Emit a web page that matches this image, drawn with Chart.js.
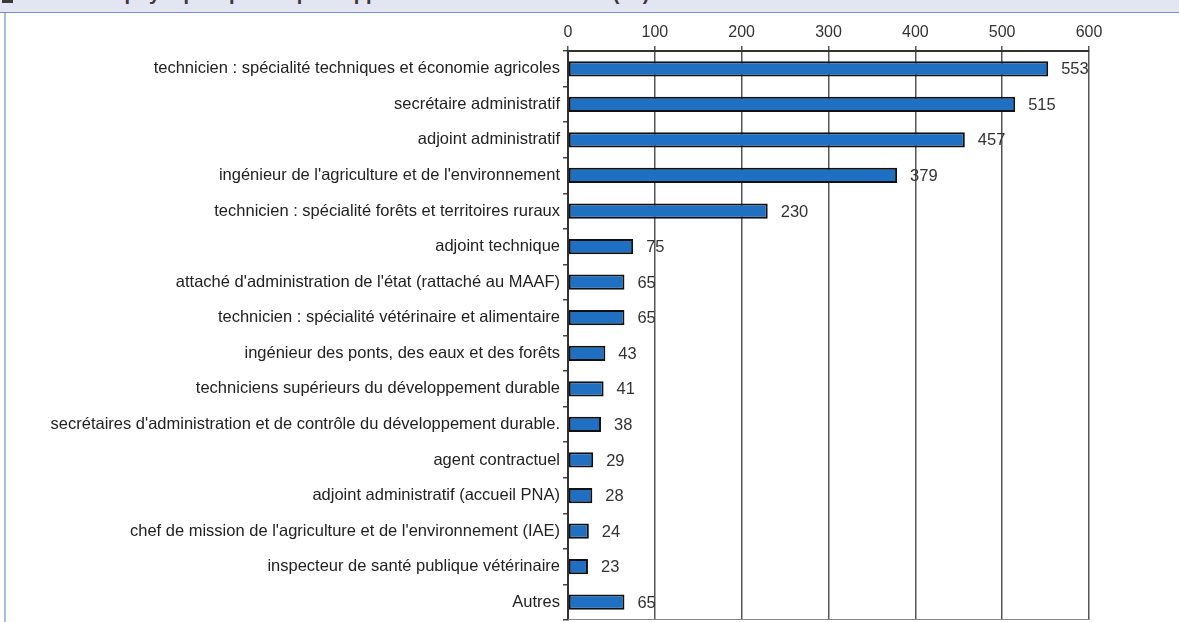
<!DOCTYPE html>
<html lang="fr">
<head>
<meta charset="utf-8">
<script src="https://cdn.jsdelivr.net/npm/chart.js@4/dist/chart.umd.min.js"></script>
<style>
  html, body { margin: 0; padding: 0; background: #fff; }
  body { width: 1179px; height: 622px; position: relative; overflow: hidden;
         font-family: 'Liberation Sans', Arial, sans-serif; }
  .band { position: absolute; left: 0; top: 0; width: 1179px; height: 12px;
          background: #e3e5f2; border-bottom: 1px solid #6f93d2; overflow: hidden; }
  .band span { position: absolute; left: 40px; top: -18px; font-size: 20px;
               font-weight: bold; color: #3a3a3a; white-space: nowrap; }
  .band i { position: absolute; left: 2px; top: -8px; width: 11px; height: 11px; background: #3a3a3a; }
  .edge { position: absolute; left: 4px; top: 13px; width: 2px; height: 609px; background: #a6bbe6; }
  #wrap { position: absolute; left: 0; top: 0; width: 1179px; height: 622px; }
</style>
</head>
<body>
<div class="band"><i></i><span>Effectifs physiques par corps d'appartenance au 31/12/2012 (en)</span></div>
<div class="edge"></div>
<div id="wrap"><canvas id="chart"></canvas></div>
<script>
'use strict';

/* ── données ── */
const CORPS = [
  'technicien : spécialité techniques et économie agricoles',
  'secrétaire administratif',
  'adjoint administratif',
  "ingénieur de l'agriculture et de l'environnement",
  'technicien : spécialité forêts et territoires ruraux',
  'adjoint technique',
  "attaché d'administration de l'état (rattaché au MAAF)",
  'technicien : spécialité vétérinaire et alimentaire',
  'ingénieur des ponts, des eaux et des forêts',
  'techniciens supérieurs du développement durable',
  "secrétaires d'administration et de contrôle du développement durable.",
  'agent contractuel',
  'adjoint administratif (accueil PNA)',
  "chef de mission de l'agriculture et de l'environnement (IAE)",
  'inspecteur de santé publique vétérinaire',
  'Autres'
];
const EFFECTIFS = [553, 515, 457, 379, 230, 75, 65, 65, 43, 41, 38, 29, 28, 24, 23, 65];
const TICKS_X   = [0, 100, 200, 300, 400, 500, 600];

const FONT = "'Liberation Sans', Arial, sans-serif";

/* ── étiquettes de valeur à droite des barres ── */
const valueLabels = {
  id: 'valueLabels',
  afterDatasetsDraw(chart) {
    const ctx = chart.ctx;
    const meta = chart.getDatasetMeta(0);
    ctx.save();
    ctx.font = '16.5px ' + FONT;
    ctx.fillStyle = '#333';
    ctx.textBaseline = 'middle';
    meta.data.forEach((bar, i) => {
      ctx.fillText(String(EFFECTIFS[i]), bar.x + 13, bar.y + 1);
    });
    ctx.restore();
  }
};

/* ── cadre bas de la zone de tracé ── */
const bottomFrame = {
  id: 'bottomFrame',
  afterDraw(chart) {
    const { ctx, chartArea: a } = chart;
    ctx.save();
    ctx.strokeStyle = '#888';
    ctx.lineWidth = 1;
    ctx.beginPath();
    ctx.moveTo(a.left, a.bottom - 0.5);
    ctx.lineTo(a.right, a.bottom - 0.5);
    ctx.stroke();
    ctx.restore();
  }
};

new Chart(document.getElementById('chart'), {
  type: 'bar',
  data: {
    labels: CORPS,
    datasets: [{
      data: EFFECTIFS,
      backgroundColor: '#1f6fc2',
      borderColor: '#111',
      borderWidth: 2,
      borderSkipped: false,
      barPercentage: 0.43,
      categoryPercentage: 1
    }]
  },
  options: {
    indexAxis: 'y',
    responsive: true,
    maintainAspectRatio: false,
    animation: false,
    layout: { padding: { left: 0, right: 90, top: 0, bottom: 2 } },
    plugins: { legend: { display: false }, tooltip: { enabled: false } },
    scales: {
      x: {
        position: 'top',
        min: 0,
        max: 600,
        afterBuildTicks: s => { s.ticks = TICKS_X.map(v => ({ value: v })); },
        afterFit: s => { s.height = 51; s.paddingLeft = 0; s.paddingRight = 0; },
        grid: { color: '#555', lineWidth: 1.5, tickLength: 5, drawTicks: true },
        border: { color: '#333', width: 2 },
        ticks: { color: '#333', font: { family: FONT, size: 16 }, padding: 4 }
      },
      y: {
        afterFit: s => { s.width = 568; s.paddingTop = 0; s.paddingBottom = 0; },
        grid: { drawOnChartArea: false, tickLength: 5, color: '#444', lineWidth: 1.5 },
        border: { color: '#333', width: 2 },
        ticks: { color: '#222', font: { family: FONT, size: 16.5 }, padding: 3, autoSkip: false }
      }
    }
  },
  plugins: [valueLabels, bottomFrame]
});
</script>
</body>
</html>
